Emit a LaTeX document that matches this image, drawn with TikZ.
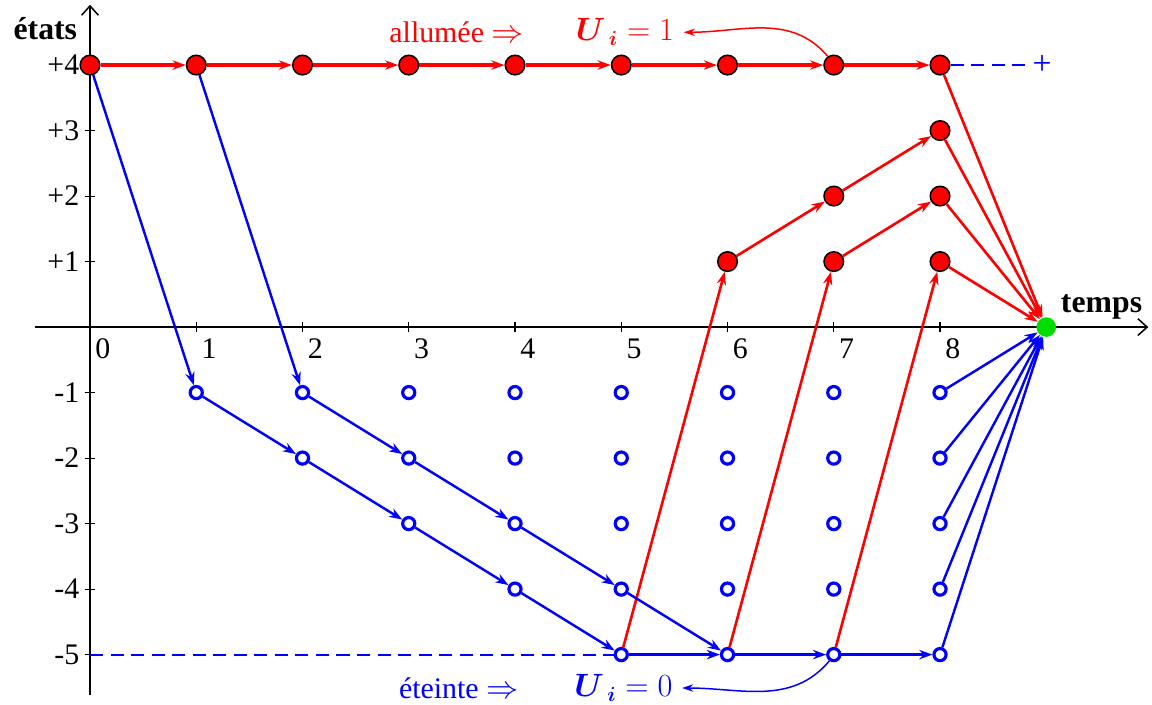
\documentclass[tikz,border=0pt]{standalone}
\usepackage{amsmath,amssymb}
\usepackage{fontspec}
\setmainfont{Liberation Serif}
\usepackage{tikz}
\usetikzlibrary{arrows.meta,positioning}
\definecolor{onred}{HTML}{FF0000}
\definecolor{offblue}{HTML}{0000FF}
\definecolor{endgreen}{HTML}{00DD00}

\begin{document}
\begin{tikzpicture}[
  x=2cm, y=1.233cm,
  lbl/.style={font=\fontsize{16}{18}\selectfont, inner sep=1pt},
  axlbl/.style={font=\fontsize{17}{19}\selectfont\bfseries, inner sep=1pt},
  onstate/.style={circle, draw=black, line width=0.8pt, fill=onred,
    minimum size=10.5pt, inner sep=0pt},
  offstate/.style={circle, draw=offblue, line width=1.7pt, fill=white,
    minimum size=6.5pt, inner sep=0pt},
  endstate/.style={circle, fill=endgreen, minimum size=10.5pt, inner sep=0pt},
  axisline/.style={line width=0.8pt, -{Straight Barb[length=5pt,width=9pt]}},
  tickmark/.style={line width=0.6pt},
  redarr/.style={-{Stealth[length=7pt,width=5pt]}, line width=1.4pt, color=onred},
  bluearr/.style={-{Stealth[length=7pt,width=5pt]}, line width=1.3pt, color=offblue},
  dashline/.style={offblue, line width=1pt, dash pattern=on 7pt off 4pt},
  bendarr/.style={-{Stealth[length=6pt,width=4pt]}, line width=0.8pt}
]
\useasboundingbox (-0.847,-5.755) rectangle (9.995,4.993);

% axes
\coordinate (xs) at (-0.52,0);
\coordinate (xe) at (9.96,0);
\coordinate (ys) at (0,-5.62);
\coordinate (ye) at (0,4.92);
\draw[axisline] (xs) -- (xe);
\draw[axisline] (ys) -- (ye);
\foreach \t in {1,...,8} \draw[tickmark] (\t,-0.08) -- (\t,0.08);
\foreach \s in {-5,-4,-3,-2,-1,1,2,3,4} \draw[tickmark] (-0.05,\s) -- (0.05,\s);
\foreach \t in {0,...,8} \node[lbl] (tx\t) at (\t+0.12,-0.33) {\t};
\foreach \s in {1,...,4} \node[lbl, anchor=east] (typ\s) at (-0.08,\s) {+\s};
\foreach \s in {1,...,5} \node[lbl, anchor=east] (tym\s) at (-0.08,-\s) {-\s};
\node[axlbl] (etats) at (-0.42,4.55) {états};
\node[axlbl] (temps) at (9.52,0.30) {temps};

% states
\foreach \t in {0,...,8} \node[onstate] (r4\t) at (\t,4) {};
\node[onstate] (r38) at (8,3) {};
\node[onstate] (r27) at (7,2) {};
\node[onstate] (r28) at (8,2) {};
\foreach \t in {6,7,8} \node[onstate] (r1\t) at (\t,1) {};
\foreach \k in {1,...,5}
  \foreach \t in {\k,...,8}
    \node[offstate] (b\k\t) at (\t,-\k) {};
\node[endstate] (fin) at (9,0) {};

% dashed guides
\node[text=offblue, font=\fontsize{18}{18}\selectfont, inner sep=2pt] (plus) at (8.96,4) {+};
\coordinate (ym5) at (0,-5);
\draw[dashline] (r48.east) -- (plus.west);
\draw[dashline] (ym5) -- (b55);

% switched on
\foreach \t [count=\n] in {0,...,7} \draw[redarr, line width=1.8pt] (r4\t) -- (r4\n);
\draw[redarr] (b55) -- (r16);
\draw[redarr] (b56) -- (r17);
\draw[redarr] (b57) -- (r18);
\draw[redarr] (r16) -- (r27);
\draw[redarr] (r27) -- (r38);
\draw[redarr] (r17) -- (r28);
\foreach \n in {r48,r38,r28,r18} \draw[redarr] (\n) -- (fin);

% switched off
\draw[bluearr] (r40) -- (b11);
\draw[bluearr] (r41) -- (b12);
\draw[bluearr] (b11) -- (b22);
\draw[bluearr] (b22) -- (b33);
\draw[bluearr] (b33) -- (b44);
\draw[bluearr] (b44) -- (b55);
\draw[bluearr] (b12) -- (b23);
\draw[bluearr] (b23) -- (b34);
\draw[bluearr] (b34) -- (b45);
\draw[bluearr] (b45) -- (b56);
\draw[bluearr, line width=1.7pt] (b55) -- (b56);
\draw[bluearr, line width=1.7pt] (b56) -- (b57);
\draw[bluearr, line width=1.7pt] (b57) -- (b58);
\foreach \k in {1,...,5} \draw[bluearr] (b\k8) -- (fin);

% legend
\node[lbl, text=onred] (allumee) at (3.45,4.50) {allumée $\Rightarrow$};
\node[lbl, text=onred] (uon) at (5.035,4.50) {$\boldsymbol{U}_{\,\boldsymbol{i}}=1$};
\node[lbl, text=offblue] (eteinte) at (3.47,-5.51) {éteinte $\Rightarrow$};
\node[lbl, text=offblue] (uoff) at (5.02,-5.51) {$\boldsymbol{U}_{\,\boldsymbol{i}}=0$};
\draw[bendarr, onred] (r47.125) to[out=130,in=0] ([xshift=4pt]uon.east);
\draw[bendarr, offblue] (b57.235) to[out=230,in=0] ([xshift=4pt]uoff.east);
\end{tikzpicture}
\end{document}
